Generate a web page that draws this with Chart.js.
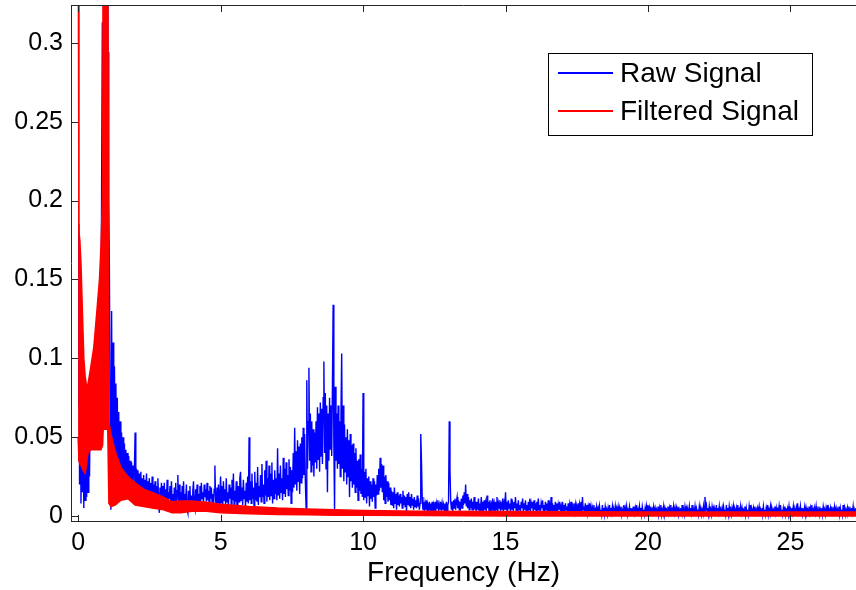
<!DOCTYPE html>
<html>
<head>
<meta charset="utf-8">
<script src="https://cdn.jsdelivr.net/npm/chart.js@4/dist/chart.umd.min.js"></script>
<style>
  html, body { margin: 0; padding: 0; background: #fff; }
  #wrap { width: 856px; height: 590px; position: relative; }
</style>
</head>
<body>
<div id="wrap"><canvas id="spectrum"></canvas></div>
<script>
// spectrum: raw vs filtered signal

// raw signal, one value per 0.025 Hz bin (one row = 1 Hz)
const rawStep = 0.025;
const rawValues = [
  0.070, 0.185, 0.020, 0.120, 0.008, 0.060, 0.015, 0.070, 0.005, 0.050, 0.010, 0.060, 0.012, 0.055, 0.015, 0.065, 0.025, 0.070, 0.045, 0.080,
  0.050, 0.085, 0.055, 0.095, 0.060, 0.100, 0.065, 0.115, 0.070, 0.130, 0.080, 0.140, 0.090, 0.210, 0.313, 0.250, 0.400, 0.400, 0.400, 0.400,
  // 1 Hz
  0.400, 0.400, 0.294, 0.200, 0.150, 0.050, 0.004, 0.130, 0.030, 0.110, 0.015, 0.095, 0.030, 0.084, 0.020, 0.075, 0.025, 0.066, 0.015, 0.060,
  0.025, 0.053, 0.018, 0.050, 0.022, 0.046, 0.015, 0.042, 0.020, 0.040, 0.014, 0.038, 0.018, 0.035, 0.012, 0.034, 0.017, 0.032, 0.013, 0.030,
  // 2 Hz
  0.053, 0.014, 0.030, 0.012, 0.029, 0.016, 0.027, 0.010, 0.028, 0.014, 0.024, 0.011, 0.026, 0.008, 0.023, 0.013, 0.027, 0.010, 0.022, 0.014,
  0.024, 0.009, 0.021, 0.013, 0.025, 0.008, 0.020, 0.012, 0.022, 0.007, 0.019, 0.011, 0.024, 0.009, 0.002, 0.018, 0.010, 0.021, 0.008, 0.019,
  // 3 Hz
  0.010, 0.021, 0.006, 0.017, 0.009, 0.023, 0.005, 0.015, 0.011, 0.019, 0.004, 0.022, 0.008, 0.014, 0.003, 0.018, 0.007, 0.021, 0.005, 0.016,
  0.026, 0.006, 0.020, 0.009, 0.015, 0.004, 0.019, 0.007, 0.022, 0.005, 0.014, 0.010, 0.020, 0.004, 0.002, 0.016, 0.006, 0.019, 0.005, 0.013,
  // 4 Hz
  0.007, 0.016, 0.022, 0.006, 0.004, 0.017, 0.008, 0.020, 0.006, 0.014, 0.010, 0.019, 0.009, 0.021, 0.011, 0.015, 0.008, 0.020, 0.012, 0.017,
  0.009, 0.021, 0.010, 0.016, 0.007, 0.019, 0.011, 0.018, 0.009, 0.014, 0.006, 0.017, 0.032, 0.010, 0.005, 0.018, 0.008, 0.020, 0.006, 0.013,
  // 5 Hz
  0.025, 0.008, 0.019, 0.006, 0.022, 0.010, 0.017, 0.007, 0.024, 0.009, 0.015, 0.005, 0.020, 0.011, 0.018, 0.007, 0.023, 0.010, 0.027, 0.006,
  0.016, 0.009, 0.022, 0.006, 0.004, 0.019, 0.009, 0.024, 0.028, 0.010, 0.018, 0.007, 0.023, 0.011, 0.016, 0.006, 0.021, 0.009, 0.025, 0.008,
  // 6 Hz
  0.050, 0.010, 0.022, 0.008, 0.027, 0.011, 0.018, 0.006, 0.028, 0.010, 0.021, 0.009, 0.031, 0.007, 0.019, 0.012, 0.026, 0.009, 0.033, 0.012,
  0.020, 0.008, 0.029, 0.013, 0.035, 0.009, 0.024, 0.012, 0.032, 0.010, 0.027, 0.013, 0.034, 0.008, 0.023, 0.011, 0.029, 0.014, 0.024, 0.010,
  // 7 Hz
  0.043, 0.013, 0.027, 0.011, 0.032, 0.015, 0.024, 0.010, 0.037, 0.014, 0.030, 0.012, 0.034, 0.017, 0.026, 0.013, 0.036, 0.016, 0.031, 0.008,
  0.029, 0.015, 0.040, 0.018, 0.056, 0.020, 0.041, 0.016, 0.048, 0.022, 0.044, 0.014, 0.046, 0.021, 0.050, 0.024, 0.056, 0.026, 0.052, 0.022,
  // 8 Hz
  0.005, 0.086, 0.030, 0.060, 0.094, 0.035, 0.065, 0.028, 0.060, 0.032, 0.055, 0.025, 0.053, 0.034, 0.060, 0.030, 0.069, 0.036, 0.065, 0.028,
  0.072, 0.038, 0.068, 0.033, 0.075, 0.098, 0.040, 0.078, 0.030, 0.070, 0.015, 0.065, 0.035, 0.075, 0.042, 0.070, 0.038, 0.082, 0.134, 0.045,
  // 9 Hz
  0.004, 0.082, 0.035, 0.065, 0.030, 0.070, 0.033, 0.060, 0.025, 0.065, 0.103, 0.030, 0.070, 0.022, 0.058, 0.028, 0.050, 0.020, 0.055, 0.025,
  0.048, 0.012, 0.052, 0.022, 0.045, 0.018, 0.046, 0.020, 0.040, 0.015, 0.043, 0.018, 0.035, 0.010, 0.036, 0.016, 0.039, 0.014, 0.030, 0.012,
  // 10 Hz
  0.078, 0.010, 0.028, 0.012, 0.030, 0.008, 0.024, 0.013, 0.025, 0.006, 0.022, 0.011, 0.020, 0.009, 0.024, 0.012, 0.022, 0.005, 0.020, 0.013,
  0.026, 0.014, 0.030, 0.016, 0.037, 0.018, 0.033, 0.015, 0.032, 0.010, 0.025, 0.008, 0.026, 0.012, 0.022, 0.009, 0.021, 0.010, 0.018, 0.007,
  // 11 Hz
  0.016, 0.007, 0.015, 0.005, 0.018, 0.008, 0.014, 0.004, 0.015, 0.007, 0.013, 0.006, 0.014, 0.008, 0.012, 0.005, 0.016, 0.007, 0.013, 0.006,
  0.012, 0.003, 0.014, 0.007, 0.015, 0.006, 0.012, 0.005, 0.014, 0.007, 0.011, 0.004, 0.012, 0.006, 0.010, 0.005, 0.013, 0.006, 0.011, 0.004,
  // 12 Hz
  0.008, 0.052, 0.035, 0.012, 0.004, 0.009, 0.003, 0.008, 0.004, 0.010, 0.003, 0.007, 0.005, 0.009, 0.003, 0.008, 0.004, 0.009, 0.003, 0.007,
  0.004, 0.009, 0.003, 0.008, 0.005, 0.010, 0.003, 0.007, 0.004, 0.009, 0.003, 0.008, 0.004, 0.007, 0.003, 0.008, 0.004, 0.009, 0.003, 0.007,
  // 13 Hz
  0.009, 0.060, 0.029, 0.010, 0.004, 0.009, 0.003, 0.010, 0.005, 0.011, 0.004, 0.009, 0.012, 0.005, 0.010, 0.004, 0.009, 0.006, 0.011, 0.005,
  0.013, 0.007, 0.015, 0.008, 0.020, 0.006, 0.014, 0.005, 0.012, 0.004, 0.010, 0.005, 0.011, 0.004, 0.009, 0.006, 0.012, 0.004, 0.009, 0.003,
  // 14 Hz
  0.009, 0.004, 0.011, 0.003, 0.008, 0.005, 0.012, 0.003, 0.009, 0.002, 0.010, 0.004, 0.008, 0.003, 0.013, 0.005, 0.009, 0.002, 0.010, 0.004,
  0.007, 0.003, 0.011, 0.005, 0.008, 0.002, 0.009, 0.004, 0.012, 0.003, 0.008, 0.005, 0.010, 0.002, 0.009, 0.004, 0.011, 0.003, 0.008, 0.004,
  // 15 Hz
  0.015, 0.004, 0.009, 0.003, 0.010, 0.005, 0.008, 0.002, 0.011, 0.004, 0.007, 0.003, 0.009, 0.005, 0.012, 0.003, 0.008, 0.002, 0.010, 0.004,
  0.007, 0.003, 0.009, 0.005, 0.011, 0.002, 0.008, 0.004, 0.010, 0.003, 0.007, 0.002, 0.009, 0.004, 0.011, 0.003, 0.008, 0.005, 0.009, 0.002,
  // 16 Hz
  0.010, 0.004, 0.008, 0.002, 0.009, 0.003, 0.011, 0.004, 0.007, 0.002, 0.008, 0.005, 0.010, 0.003, 0.007, 0.002, 0.009, 0.004, 0.008, 0.003,
  0.010, 0.002, 0.007, 0.004, 0.012, 0.003, 0.008, 0.002, 0.007, 0.004, 0.009, 0.003, 0.008, 0.002, 0.007, 0.004, 0.009, 0.003, 0.006, 0.002,
  // 17 Hz
  0.009, 0.003, 0.007, 0.002, 0.008, 0.004, 0.006, 0.002, 0.008, 0.003, 0.007, 0.002, 0.009, 0.004, 0.006, 0.002, 0.008, 0.003, 0.007, 0.002,
  0.006, 0.004, 0.008, 0.002, 0.007, 0.003, 0.009, 0.002, 0.012, 0.004, 0.006, 0.002, 0.008, 0.003, 0.007, 0.002, 0.006, 0.003, 0.008, 0.002,
  // 18 Hz
  0.006, 0.002, 0.005, 0.001, 0.007, 0.002, 0.004, 0.001, 0.006, 0.003, 0.005, 0.001, 0.006, 0.002, 0.004, 0.001, 0.007, 0.002, 0.005, 0.001,
  0.006, 0.003, 0.004, 0.001, 0.005, 0.002, 0.007, 0.001, 0.005, 0.002, 0.006, 0.001, 0.004, 0.002, 0.006, 0.001, 0.005, 0.003, 0.006, 0.001,
  // 19 Hz
  0.005, 0.002, 0.006, 0.001, 0.004, 0.002, 0.007, 0.001, 0.005, 0.002, 0.006, 0.001, 0.004, 0.003, 0.006, 0.001, 0.005, 0.002, 0.004, 0.001,
  0.006, 0.002, 0.005, 0.001, 0.007, 0.002, 0.004, 0.001, 0.006, 0.002, 0.005, 0.001, 0.006, 0.003, 0.004, 0.001, 0.005, 0.002, 0.006, 0.001,
  // 20 Hz
  0.007, 0.002, 0.005, 0.001, 0.006, 0.002, 0.004, 0.001, 0.006, 0.003, 0.005, 0.001, 0.004, 0.002, 0.006, 0.001, 0.005, 0.002, 0.007, 0.001,
  0.004, 0.002, 0.006, 0.001, 0.005, 0.003, 0.004, 0.001, 0.006, 0.002, 0.005, 0.001, 0.007, 0.002, 0.004, 0.001, 0.006, 0.002, 0.005, 0.001,
  // 21 Hz
  0.005, 0.002, 0.006, 0.001, 0.004, 0.002, 0.005, 0.001, 0.007, 0.002, 0.004, 0.001, 0.006, 0.003, 0.005, 0.001, 0.004, 0.002, 0.006, 0.001,
  0.005, 0.002, 0.007, 0.001, 0.004, 0.002, 0.006, 0.001, 0.005, 0.003, 0.004, 0.001, 0.006, 0.002, 0.005, 0.001, 0.004, 0.002, 0.006, 0.001,
  // 22 Hz
  0.012, 0.005, 0.007, 0.002, 0.005, 0.001, 0.006, 0.002, 0.004, 0.001, 0.006, 0.003, 0.005, 0.001, 0.004, 0.002, 0.007, 0.001, 0.005, 0.002,
  0.006, 0.001, 0.004, 0.002, 0.005, 0.001, 0.006, 0.003, 0.004, 0.001, 0.007, 0.002, 0.005, 0.001, 0.006, 0.002, 0.004, 0.001, 0.005, 0.002,
  // 23 Hz
  0.006, 0.001, 0.004, 0.002, 0.005, 0.001, 0.007, 0.002, 0.004, 0.001, 0.006, 0.002, 0.005, 0.001, 0.004, 0.003, 0.006, 0.001, 0.005, 0.002,
  0.004, 0.001, 0.006, 0.002, 0.007, 0.001, 0.004, 0.002, 0.005, 0.001, 0.006, 0.002, 0.004, 0.001, 0.005, 0.003, 0.006, 0.001, 0.004, 0.002,
  // 24 Hz
  0.005, 0.001, 0.006, 0.002, 0.004, 0.001, 0.005, 0.002, 0.007, 0.001, 0.004, 0.002, 0.006, 0.001, 0.005, 0.003, 0.004, 0.001, 0.006, 0.002,
  0.005, 0.001, 0.004, 0.002, 0.006, 0.001, 0.007, 0.002, 0.004, 0.001, 0.005, 0.002, 0.006, 0.001, 0.004, 0.003, 0.005, 0.001, 0.006, 0.002,
  // 25 Hz
  0.004, 0.001, 0.005, 0.002, 0.006, 0.001, 0.004, 0.002, 0.005, 0.001, 0.008, 0.002, 0.004, 0.001, 0.006, 0.002, 0.005, 0.001, 0.004, 0.003,
  0.006, 0.001, 0.005, 0.002, 0.004, 0.001, 0.006, 0.002, 0.005, 0.001, 0.007, 0.002, 0.004, 0.001, 0.005, 0.002, 0.006, 0.001, 0.004, 0.002,
  // 26 Hz
  0.006, 0.001, 0.004, 0.002, 0.005, 0.001, 0.006, 0.003, 0.004, 0.001, 0.005, 0.002, 0.007, 0.001, 0.004, 0.002, 0.005, 0.001, 0.006, 0.002,
  0.004, 0.001, 0.006, 0.003, 0.005, 0.001, 0.004, 0.002, 0.006, 0.001, 0.005, 0.002, 0.004, 0.001, 0.007, 0.002, 0.005, 0.001, 0.004, 0.002,
  // 27 Hz
  0.005, 0.001, 0.006, 0.002, 0.004, 0.001, 0.005, 0.002, 0.006, 0.001, 0.004, 0.003, 0.005, 0.001, 0.006, 0.002, 0.004, 0.001, 0.005
];

// filtered signal oscillates fast -> kept as its upper / lower envelope
const filteredFreq  = [0, 0.03, 0.06, 0.1, 0.15, 0.2, 0.25, 0.3, 0.35, 0.45, 0.55, 0.65, 0.75, 0.8, 0.86, 0.88, 1.04, 1.08, 1.15, 1.3, 1.5, 1.75, 2.0, 2.3, 2.6, 3.0, 3.3, 3.6, 4.0, 4.5, 5.0, 6.0, 7.0, 8.0, 9.0, 10.0, 12.0, 15.0, 20.0, 27.5];
const filteredUpper = [0.40, 0.18, 0.175, 0.16, 0.13, 0.10, 0.088, 0.082, 0.084, 0.095, 0.107, 0.128, 0.15, 0.17, 0.205, 0.40, 0.40, 0.060, 0.052, 0.041, 0.031, 0.025, 0.021, 0.017, 0.015, 0.012, 0.009, 0.0095, 0.0095, 0.0088, 0.0075, 0.006, 0.005, 0.0045, 0.004, 0.0035, 0.003, 0.0028, 0.0025, 0.0025];
const filteredLower = [0.05, 0.035, 0.033, 0.032, 0.030, 0.028, 0.027, 0.034, 0.040, 0.042, 0.042, 0.042, 0.042, 0.042, 0.045, 0.055, 0.055, 0.008, 0.006, 0.007, 0.010, 0.011, 0.007, 0.006, 0.005, 0.004, 0.002, 0.002, 0.003, 0.003, 0.002, 0.0015, 0.001, 0.0008, 0.0005, 0.0005, 0.0003, 0, 0, 0];

const xTicks = [0, 5, 10, 15, 20, 25];
const yTicks = [0, 0.05, 0.1, 0.15, 0.2, 0.25, 0.3];

const FONT = "'Liberation Sans', Arial, Helvetica, sans-serif";
const AXIS = "#262626";

const rawPoints = rawValues.map((v, i) => ({ x: +(i * rawStep).toFixed(3), y: v }));
const upperPoints = filteredFreq.map((f, i) => ({ x: f, y: filteredUpper[i] }));
const lowerPoints = filteredFreq.map((f, i) => ({ x: f, y: filteredLower[i] }));

// no extra room for half-labels at the ends of the axes
function noEdgePadding(s){
  s.paddingTop = 0; s.paddingBottom = 0;
  s.paddingLeft = 0; s.paddingRight = 0;
}

// matlab look: box, inward ticks, legend box in the top right
const matlabBox = {
  id: "matlabBox",
  afterDraw(chart){
    const { ctx, chartArea: a, scales: { x, y } } = chart;
    ctx.save();
    ctx.strokeStyle = AXIS;
    ctx.lineWidth = 1;
    ctx.beginPath();
    ctx.moveTo(a.left + 0.5, a.top);
    ctx.lineTo(a.left + 0.5, a.bottom);
    ctx.moveTo(a.left, a.bottom - 0.5);
    ctx.lineTo(a.right, a.bottom - 0.5);
    ctx.moveTo(a.left, a.top + 0.5);
    ctx.lineTo(a.right, a.top + 0.5);
    x.ticks.forEach(t => {
      const px = Math.round(x.getPixelForValue(t.value)) + 0.5;
      ctx.moveTo(px, a.bottom); ctx.lineTo(px, a.bottom - 7);
      ctx.moveTo(px, a.top); ctx.lineTo(px, a.top + 7);
    });
    y.ticks.forEach(t => {
      const py = Math.round(y.getPixelForValue(t.value)) + 0.5;
      ctx.moveTo(a.left, py); ctx.lineTo(a.left + 7, py);
    });
    ctx.stroke();

    // legend
    const items = chart.data.datasets.filter(d => d.inLegend);
    const bx = 548, by = 53, bw = 264, bh = 82;
    ctx.fillStyle = "#fff";
    ctx.fillRect(bx, by, bw, bh);
    ctx.strokeStyle = "#000";
    ctx.strokeRect(bx + 0.5, by + 0.5, bw, bh);
    ctx.font = "28px " + FONT;
    ctx.textBaseline = "middle";
    ctx.textAlign = "left";
    items.forEach((d, i) => {
      const ly = by + 20 + i * 38;
      ctx.strokeStyle = d.borderColor;
      ctx.lineWidth = 2;
      ctx.beginPath();
      ctx.moveTo(bx + 10, ly); ctx.lineTo(bx + 65, ly);
      ctx.stroke();
      ctx.fillStyle = "#000";
      ctx.fillText(d.label, bx + 72, ly + 1);
    });
    ctx.restore();
  }
};

new Chart(document.getElementById("spectrum"), {
  type: "line",
  data: {
    datasets: [
      {
        label: "Raw Signal",
        inLegend: true,
        data: rawPoints,
        borderColor: "#0000ff",
        borderWidth: 1.4,
        pointRadius: 0,
        tension: 0,
        fill: false,
        order: 2
      },
      {
        label: "Filtered Signal",
        inLegend: true,
        data: upperPoints,
        borderColor: "#ff0000",
        backgroundColor: "#ff0000",
        borderWidth: 1.5,
        pointRadius: 0,
        tension: 0,
        fill: "+1",
        order: 1
      },
      {
        label: "Filtered lower",
        data: lowerPoints,
        borderColor: "#ff0000",
        borderWidth: 1.5,
        pointRadius: 0,
        tension: 0,
        fill: false,
        order: 1
      }
    ]
  },
  options: {
    responsive: true,
    maintainAspectRatio: false,
    animation: false,
    parsing: false,
    layout: { padding: { left: 0, top: 5, right: 0, bottom: 0 } },
    plugins: { legend: { display: false }, tooltip: { enabled: false } },
    scales: {
      x: {
        type: "linear",
        min: -0.25,
        max: 27.3,
        afterBuildTicks: s => { s.ticks = xTicks.map(v => ({ value: v })); },
        afterFit: s => { s.height = 68; noEdgePadding(s); },
        grid: { display: false, drawTicks: false },
        border: { display: false },
        ticks: { color: "#000", font: { family: FONT, size: 25 }, padding: 6, maxRotation: 0, callback: v => String(v) },
        title: { display: true, text: "Frequency (Hz)", color: "#000", font: { family: FONT, size: 28 }, padding: { top: 0, bottom: 0 } }
      },
      y: {
        min: -0.0038,
        max: 0.324,
        afterBuildTicks: s => { s.ticks = yTicks.map(v => ({ value: v })); },
        afterFit: s => { s.width = 71; noEdgePadding(s); },
        grid: { display: false, drawTicks: false },
        border: { display: false },
        ticks: { color: "#000", font: { family: FONT, size: 25 }, padding: 8, callback: v => String(v) }
      }
    }
  },
  plugins: [matlabBox]
});
</script>
</body>
</html>
